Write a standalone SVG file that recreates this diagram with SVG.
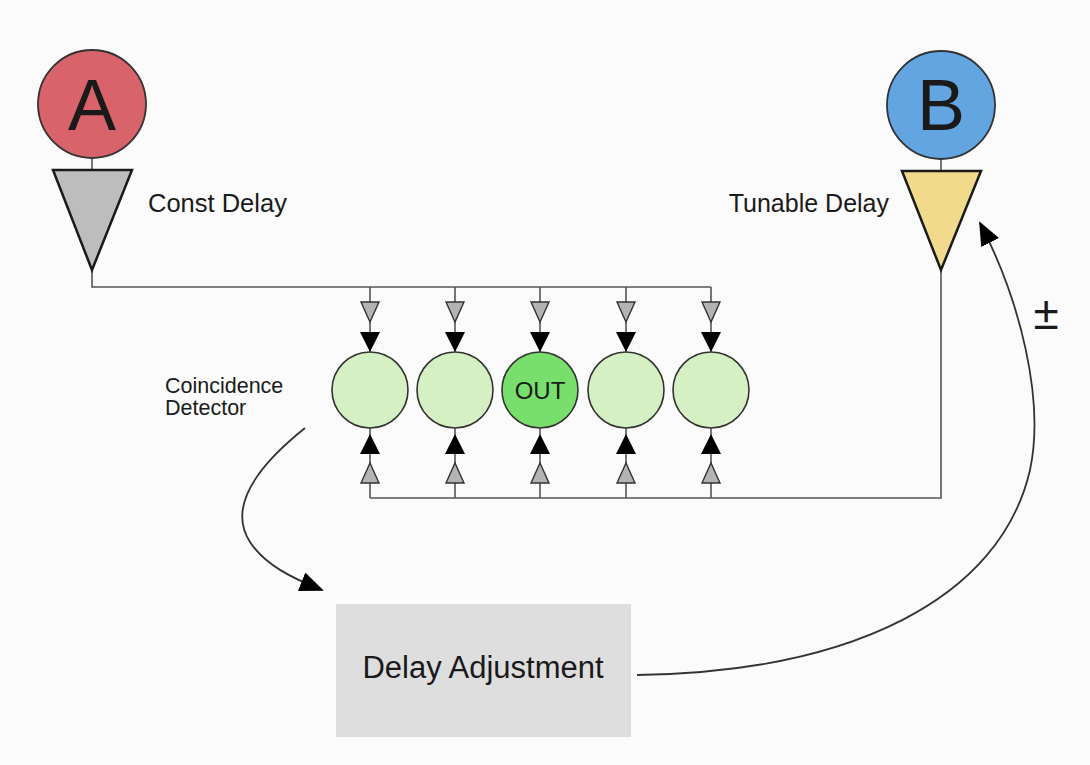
<svg xmlns="http://www.w3.org/2000/svg" width="1090" height="765" viewBox="0 0 1090 765">
<style>
.t{font-family:"Liberation Sans",Arial,sans-serif;fill:#1a1a1a}
.wire{fill:none;stroke:#555;stroke-width:1.6}
.curve{fill:none;stroke:#333;stroke-width:1.8}
.gt{fill:#b3b3b3;stroke:#333;stroke-width:1.4}
.bt{fill:#000}
.cd{fill:#d5f0c2;stroke:#333;stroke-width:1.6}
</style>
<defs>
<marker id="ahb" markerWidth="24" markerHeight="20" refX="22" refY="10" orient="auto" markerUnits="userSpaceOnUse" viewBox="0 0 24 20">
<path d="M0,0 L24,10 L0,20 Z" fill="#000"/>
</marker>
</defs>
<rect width="1090" height="765" fill="#fbfbfb"/>

<g id="connectors">
<path class="wire" d="M92,158 V170 M92,270 V287 H711"/>
<path class="wire" d="M941,158 V171 M941,270 V498 H370"/>
<path class="wire" d="M370,287 V352 M455,287 V352 M540,287 V352 M626,287 V352 M711,287 V352"/>
<path class="wire" d="M370,428 V498 M455,428 V498 M540,428 V498 M626,428 V498 M711,428 V498"/>
<g id="gray-down">
<polygon class="gt" points="361,302 379,302 370,322"/>
<polygon class="gt" points="446,302 464,302 455,322"/>
<polygon class="gt" points="531,302 549,302 540,322"/>
<polygon class="gt" points="617,302 635,302 626,322"/>
<polygon class="gt" points="702,302 720,302 711,322"/>
</g>
<g id="black-down">
<polygon class="bt" points="360,332 380,332 370,352"/>
<polygon class="bt" points="445,332 465,332 455,352"/>
<polygon class="bt" points="530,332 550,332 540,352"/>
<polygon class="bt" points="616,332 636,332 626,352"/>
<polygon class="bt" points="701,332 721,332 711,352"/>
</g>
<g id="black-up">
<polygon class="bt" points="360,454 380,454 370,434"/>
<polygon class="bt" points="445,454 465,454 455,434"/>
<polygon class="bt" points="530,454 550,454 540,434"/>
<polygon class="bt" points="616,454 636,454 626,434"/>
<polygon class="bt" points="701,454 721,454 711,434"/>
</g>
<g id="gray-up">
<polygon class="gt" points="361,483 379,483 370,463"/>
<polygon class="gt" points="446,483 464,483 455,463"/>
<polygon class="gt" points="531,483 549,483 540,463"/>
<polygon class="gt" points="617,483 635,483 626,463"/>
<polygon class="gt" points="702,483 720,483 711,463"/>
</g>
<path class="curve" d="M305,428 C255,468 228,508 250,542 C265,565 292,578 322,590" marker-end="url(#ahb)"/>
<path class="curve" d="M637,675 C850,672 1000,600 1030,470 C1045,400 1020,300 980,223" marker-end="url(#ahb)"/>
</g>

<g id="nodeA">
<circle cx="92" cy="104" r="54" fill="#d9636a" stroke="#333" stroke-width="1.8"/>
<text class="t" x="92" y="130" font-size="72" text-anchor="middle">A</text>
</g>
<g id="constDelay">
<polygon points="53,170 132,170 92,270" fill="#bdbdbd" stroke="#1a1a1a" stroke-width="2.5"/>
<text class="t" x="148" y="212" font-size="25.5">Const Delay</text>
</g>

<g id="nodeB">
<circle cx="941" cy="105" r="54" fill="#62a5e0" stroke="#333" stroke-width="1.8"/>
<text class="t" x="941" y="130" font-size="72" text-anchor="middle">B</text>
</g>
<g id="tunableDelay">
<polygon points="902,171 981,171 941,270" fill="#f1da8c" stroke="#1a1a1a" stroke-width="2.5"/>
<text class="t" x="889" y="212" font-size="25" text-anchor="end">Tunable Delay</text>
</g>

<g id="cd1"><circle class="cd" cx="370" cy="390" r="38"/></g>
<g id="cd2"><circle class="cd" cx="455" cy="390" r="38"/></g>
<g id="cdOut">
<circle cx="540" cy="390" r="38" fill="#78df6c" stroke="#333" stroke-width="1.6"/>
<text class="t" x="540" y="399" font-size="24" text-anchor="middle">OUT</text>
</g>
<g id="cd4"><circle class="cd" cx="626" cy="390" r="38"/></g>
<g id="cd5"><circle class="cd" cx="711" cy="390" r="38"/></g>

<g id="cdLabel">
<text class="t" x="165" y="393" font-size="21.5">Coincidence</text>
<text class="t" x="165" y="415" font-size="21.5">Detector</text>
</g>

<g id="delayAdjustment">
<rect x="336" y="604" width="295" height="133" fill="#dedede"/>
<text class="t" x="483" y="678" font-size="31" text-anchor="middle">Delay Adjustment</text>
</g>

<g id="pm">
<text class="t" x="1046" y="329" font-size="46" text-anchor="middle">±</text>
</g>
</svg>
